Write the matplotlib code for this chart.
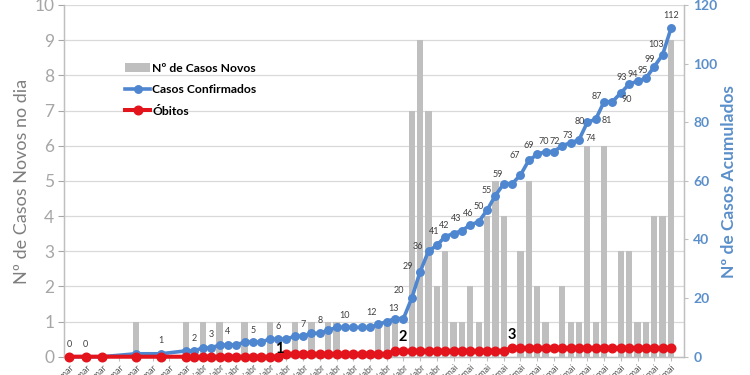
import matplotlib
matplotlib.use('Agg')
import matplotlib.pyplot as plt
import matplotlib.dates as mdates
from matplotlib.lines import Line2D
from matplotlib.patches import Patch
from matplotlib.ticker import FuncFormatter
import pandas as pd

plt.rcParams['font.family'] = ['Lato', 'DejaVu Sans']

# ---------------- data ----------------
early_dates = ['2020-03-16', '2020-03-18', '2020-03-20', '2020-03-24', '2020-03-27']
daily_first, daily_last = '2020-03-30', '2020-05-27'
dates = pd.to_datetime(early_dates).append(pd.date_range(daily_first, daily_last, freq='D'))

new_cases = [0, 0, 0, 1, 0,
             1, 0, 1, 0, 1, 0, 0, 1, 0, 0,
             1, 0, 0, 1, 0, 1, 0, 1, 1, 0,
             0, 0, 0, 1, 1, 1, 0, 7, 9, 7,
             2, 3, 1, 1, 2, 1, 4, 5, 4, 0,
             3, 5, 2, 1, 0, 2, 1, 1, 6, 1,
             6, 0, 3, 3, 1, 1, 4, 4, 9]

confirmed = [0, 0, 0, 1, 1,
             2, 2, 3, 3, 4, 4, 4, 5, 5, 5,
             6, 6, 6, 7, 7, 8, 8, 9, 10, 10,
             10, 10, 10, 11, 12, 13, 13, 20, 29, 36,
             38, 41, 42, 43, 45, 46, 50, 55, 59, 59,
             62, 67, 69, 70, 70, 72, 73, 74, 80, 81,
             87, 87, 90, 93, 94, 95, 99, 103, 112]

deaths = [0, 0, 0, 0, 0,
          0, 0, 0, 0, 0, 0, 0, 0, 0, 0, 0, 0,
          1, 1, 1, 1, 1, 1, 1, 1, 1, 1, 1, 1, 1,
          2, 2, 2, 2, 2, 2, 2, 2, 2, 2, 2, 2, 2, 2,
          3, 3, 3, 3, 3, 3, 3, 3, 3, 3, 3, 3, 3, 3, 3, 3, 3, 3, 3, 3]

# labelled points of the confirmed series: (point index, label offset in px)
confirmed_labels = [(0, (0, 12)), (1, (0, 12)), (4, (0, 13)), (6, (0, 12.5)), (8, (0, 13)),
                    (10, (0, 13)), (13, (0, 12)), (16, (0, 12.4)), (19, (0, 12)), (21, (0, 12.6)),
                    (24, (0, 11.4)), (29, (-15, 9)), (30, (-2, 10)), (32, (-12.5, 7.6)),
                    (33, (-12, 5)), (34, (-11, 5)), (36, (-11, 5)), (37, (-9, 8.6)), (38, (-6, 12)),
                    (40, (-10, 8.6)), (41, (-8, 4)), (42, (-9, 5.5)), (43, (-6, 9)), (46, (-14, 5)),
                    (47, (-8, 8.5)), (48, (-2, 10)), (50, (-8, 4)), (51, (-3, 7)), (52, (11.6, 1.5)),
                    (53, (-7.4, 0.5)), (54, (11.5, -0.7)), (55, (-7.5, 5.7)), (57, (6, -7)),
                    (58, (-7.6, 6.4)), (59, (-5, 7)), (60, (-3, 8)), (61, (-4, 7)), (62, (-6, 10)),
                    (63, (0, 13))]
death_labels = [(17, (-7, 5)), (30, (8, 13.5)), (44, (0, 13))]

month_pt = {3: 'mar', 4: 'abr', 5: 'mai'}
tick_dates = pd.date_range('2020-03-16', '2020-05-27', freq='2D')

# ---------------- style ----------------
BAR_C = '#bfbfbf'
BLUE = '#4f86d0'
RED = '#e3141c'
AXBLUE = '#5b8fca'

fig = plt.figure(figsize=(7.5, 3.75), dpi=100)
ax = fig.add_axes([64 / 750, (375 - 356.7) / 375, (683.5 - 64) / 750, (356.7 - 5) / 375])

ax.bar(dates, new_cases, width=0.75, color=BAR_C, zorder=2)
ax.set_ylim(0, 10)
ax.set_yticks(range(0, 11))
ax.grid(axis='y', color='#d9d9d9', lw=0.9, zorder=0)
ax.set_axisbelow(True)
ax.tick_params(axis='y', labelsize=12.5, colors='#a6a6a6', length=4, pad=3, width=0.8)
ax.tick_params(axis='x', length=3, color='#bfbfbf', labelsize=6.5, labelcolor='#595959', pad=1)

x0 = mdates.date2num(pd.Timestamp('2020-03-16'))
ax.set_xlim(x0 - 0.6, x0 + 73.5)
ax.set_xticks(tick_dates)
ax.xaxis.set_major_formatter(FuncFormatter(
    lambda v, p: f"{mdates.num2date(v).day}/{month_pt[mdates.num2date(v).month]}"))
for lab in ax.get_xticklabels():
    lab.set_rotation(45)
    lab.set_ha('right')
    lab.set_rotation_mode('anchor')

for s in ['top']:
    ax.spines[s].set_visible(False)
for s in ['left', 'right', 'bottom']:
    ax.spines[s].set_color('#bfbfbf')
    ax.spines[s].set_linewidth(0.9)

ax2 = ax.twinx()
ax2.set_ylim(0, 120)
ax2.set_yticks(range(0, 121, 20))
ax2.tick_params(axis='y', labelsize=10, colors=AXBLUE, length=3, pad=4, width=0.8)
for lab in ax2.get_yticklabels():
    lab.set_fontweight('bold')
ax2.tick_params(axis='y', color='#bfbfbf')
ax2.spines['top'].set_visible(False)
for s in ['left', 'right', 'bottom']:
    ax2.spines[s].set_color('#bfbfbf')
    ax2.spines[s].set_linewidth(0.9)

ax2.plot(dates, confirmed, color=BLUE, lw=2.6, marker='o', ms=5.4, zorder=3, clip_on=False)
ax2.plot(dates, deaths, color=RED, lw=2.9, marker='o', ms=6.2, zorder=4, clip_on=False)

for i, (dx, dy) in confirmed_labels:
    ax2.annotate(str(confirmed[i]), (dates[i], confirmed[i]), xytext=(dx, dy),
                 textcoords='offset pixels', ha='center', va='center',
                 fontsize=6.5, color='#404040', zorder=6)
for i, (dx, dy) in death_labels:
    ax2.annotate(str(deaths[i]), (dates[i], deaths[i]), xytext=(dx, dy),
                 textcoords='offset pixels', ha='center', va='center',
                 fontsize=10.5, fontweight='bold', color='black', zorder=6)

fig.text(22 / 750, 1 - 181 / 375, 'Nº de Casos Novos no dia', rotation=90,
         ha='center', va='center', fontsize=13, color='#7f7f7f')
fig.text(729 / 750, 1 - 182 / 375, 'Nº de Casos Acumulados', rotation=90,
         ha='center', va='center', fontsize=12.5, fontweight='bold', color=AXBLUE)

handles = [Patch(facecolor=BAR_C, edgecolor='none'),
           Line2D([], [], color=BLUE, lw=2.6, marker='o', ms=5.4),
           Line2D([], [], color=RED, lw=2.9, marker='o', ms=6.2)]
leg = fig.legend(handles, ['Nº de Casos Novos', 'Casos Confirmados', 'Óbitos'],
                 loc='upper left', bbox_to_anchor=(125 / 750, 1 - 63 / 375),
                 frameon=False, prop={'size': 8.7, 'weight': 'bold'},
                 handlelength=2.1, handletextpad=0.15, labelspacing=0.85,
                 borderpad=0, borderaxespad=0, handleheight=0.8)

fig.savefig('out.png', dpi=100)
